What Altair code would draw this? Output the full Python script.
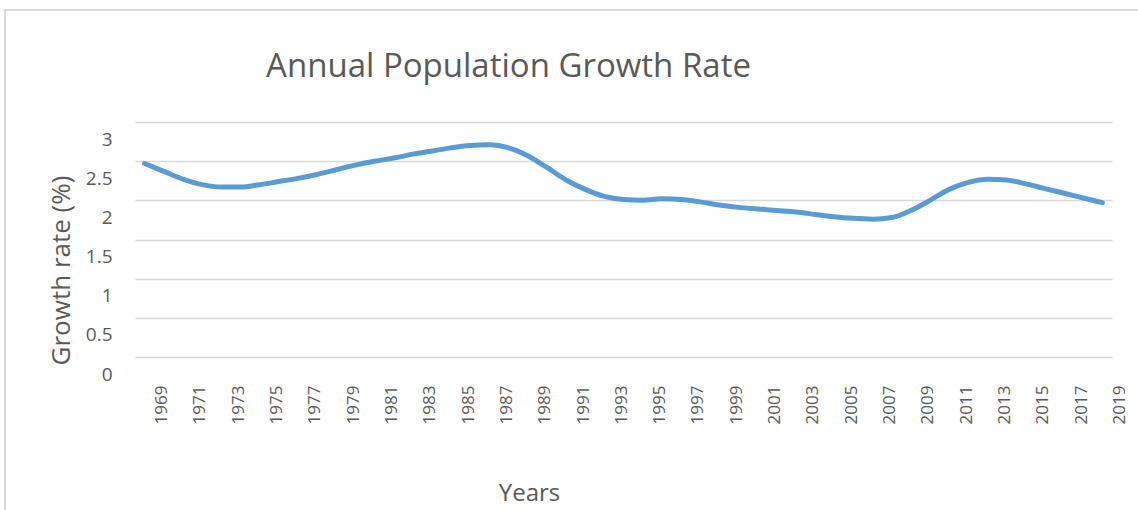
import altair as alt
import pandas as pd

# Annual population growth rate (%), 1969-2019
years = list(range(1969, 2020))
growth_rate = [
    2.47, 2.37, 2.27, 2.20, 2.17, 2.17, 2.20, 2.24, 2.28, 2.33,
    2.39, 2.45, 2.50, 2.54, 2.59, 2.63, 2.67, 2.70, 2.71, 2.67,
    2.57, 2.42, 2.26, 2.14, 2.05, 2.01, 2.00, 2.02, 2.01, 1.98,
    1.94, 1.91, 1.89, 1.87, 1.85, 1.82, 1.79, 1.77, 1.76, 1.78,
    1.87, 2.00, 2.14, 2.23, 2.27, 2.26, 2.21, 2.15, 2.09, 2.03,
    1.97,
]
label_years = list(range(1969, 2020, 2))
y_ticks = [0, 0.5, 1, 1.5, 2, 2.5, 3]

df = pd.DataFrame({"year": years, "rate": growth_rate})

FONT = "Open Sans"
GREY = "#595959"
GRID = "#d9d9d9"
W, H = 977, 235
PAD = {"left": 135, "top": 122, "right": 26, "bottom": 153}

line = alt.Chart(df).mark_line(
    color="#5b9bd5", strokeWidth=5, strokeCap="round", strokeJoin="round",
    interpolate="monotone",
).encode(
    x=alt.X(
        "year:Q",
        scale=alt.Scale(domain=[1968.5, 2019.5], nice=False, zero=False),
        axis=alt.Axis(
            values=label_years, format="d", grid=False, ticks=False,
            domain=False, labelAngle=270, labelFontSize=17, labelColor=GREY,
            labelFont=FONT, labelPadding=28, labelOffset=17,
            labelOverlap=False, labelFlush=False,
            title="Years", titleFont=FONT, titleFontSize=24,
            titleFontWeight="normal", titleColor=GREY,
            titleX=394, titleY=143, titleAnchor="middle",
            titleBaseline="alphabetic",
        ),
    ),
    y=alt.Y(
        "rate:Q",
        scale=alt.Scale(domain=[0, 3], nice=False),
        axis=alt.Axis(
            values=y_ticks, format="~g", grid=True, gridColor=GRID,
            gridWidth=1.5, ticks=False, domain=False,
            labelFontSize=19, labelColor=GREY, labelFont=FONT,
            labelPadding=23, labelOffset=17,
            title="Growth rate (%)", titleFont=FONT, titleFontSize=26,
            titleFontWeight="normal", titleColor=GREY,
            titleX=-74, titleY=148, titleAngle=270, titleAlign="center",
            titleBaseline="middle",
        ),
    ),
)

# light outer frame of the chart container
frame = alt.Chart(df).mark_rect(
    fill=None, stroke=GRID, strokeWidth=1.5
).encode(
    x=alt.value(-130), y=alt.value(-112),
    x2=alt.value(1020), y2=alt.value(400),
)

chart = alt.layer(frame, line).properties(
    width=W, height=H,
    autosize=alt.AutoSizeParams(type="none"),
    padding=PAD,
    title=alt.TitleParams(
        "Annual Population Growth Rate", font=FONT, fontSize=33,
        fontWeight="normal", color=GREY, anchor="middle", frame="group",
        baseline="bottom", dx=-115, offset=0, dy=108,
    ),
).configure_view(stroke=None)

chart.save("out.html", embed_options={"renderer": "svg", "actions": False})
